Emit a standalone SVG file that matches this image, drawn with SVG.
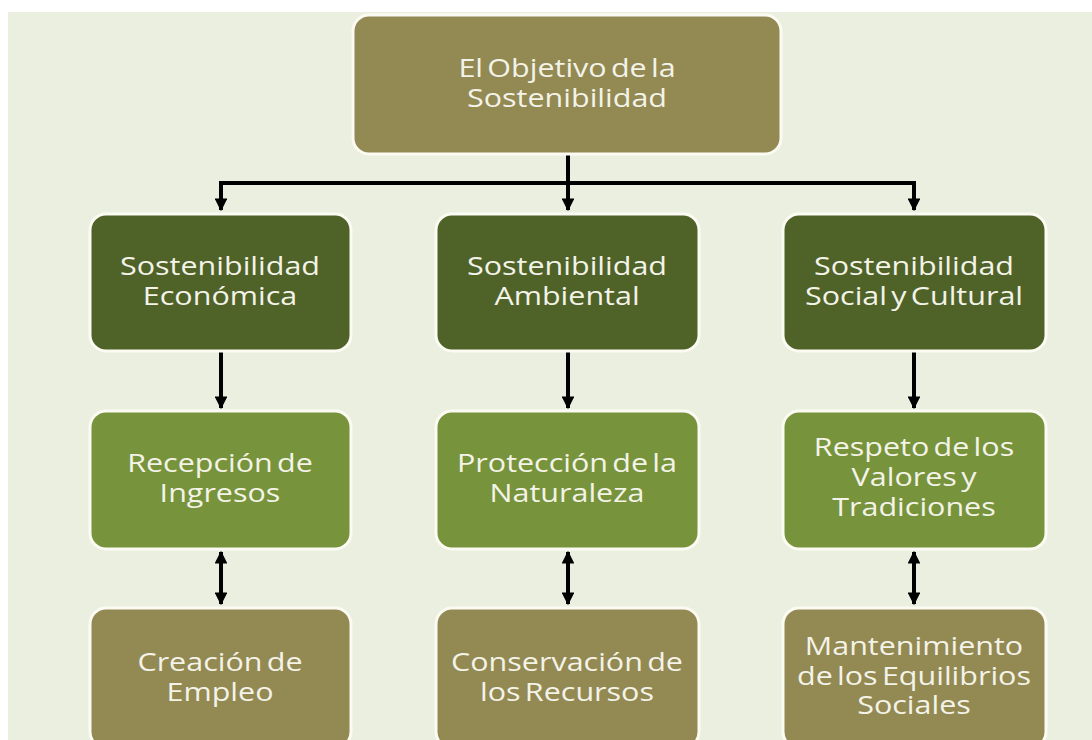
<svg xmlns="http://www.w3.org/2000/svg" width="1092" height="740" viewBox="0 0 1092 740">
<defs>
<marker id="ah" viewBox="0 0 10 10" refX="9" refY="5" markerWidth="3.2" markerHeight="3.2" orient="auto-start-reverse" markerUnits="strokeWidth">
<path d="M0,0 L10,5 L0,10 Z" fill="#000"/>
</marker>
</defs>
<style>
.box{stroke:#fbfbf3;stroke-width:3}
.olive{fill:#938953}
.dark{fill:#4f6228}
.green{fill:#77933c}
.t{font-family:"Open Sans","Liberation Sans",sans-serif;font-size:25px;fill:#f4f3e8;text-anchor:middle;word-spacing:-3px}
.c{stroke:#000;stroke-width:4;fill:none}
</style>
<rect x="0" y="0" width="1092" height="740" fill="#fff"/>
<rect x="8" y="12" width="1084" height="728" fill="#ebefdf"/>
<g id="connectors">
<path class="c" d="M568,153 V210" marker-end="url(#ah)"/>
<path class="c" d="M221,210 V183 H914 V210" marker-end="url(#ah)"/>
<path class="c" d="M221,183 V210" marker-end="url(#ah)"/>
<path class="c" d="M221,352 V408" marker-end="url(#ah)"/>
<path class="c" d="M568,352 V408" marker-end="url(#ah)"/>
<path class="c" d="M914,352 V408" marker-end="url(#ah)"/>
<path class="c" d="M221,552 V604" marker-start="url(#ah)" marker-end="url(#ah)"/>
<path class="c" d="M568,552 V604" marker-start="url(#ah)" marker-end="url(#ah)"/>
<path class="c" d="M914,552 V604" marker-start="url(#ah)" marker-end="url(#ah)"/>
</g>
<g id="n0"><rect class="box olive" x="353" y="15" width="428" height="139" rx="16"/>
<text class="t" transform="translate(567,77) scale(1.22,1)">El Objetivo de la</text><text class="t" transform="translate(567,107) scale(1.22,1)">Sostenibilidad</text></g>
<g id="n1"><rect class="box dark" x="90" y="214" width="261" height="137" rx="16"/>
<text class="t" transform="translate(220,275) scale(1.22,1)">Sostenibilidad</text><text class="t" transform="translate(220,305) scale(1.22,1)">Económica</text></g>
<g id="n2"><rect class="box dark" x="436" y="214" width="263" height="137" rx="16"/>
<text class="t" transform="translate(567,275) scale(1.22,1)">Sostenibilidad</text><text class="t" transform="translate(567,305) scale(1.22,1)">Ambiental</text></g>
<g id="n3"><rect class="box dark" x="783" y="214" width="263" height="137" rx="16"/>
<text class="t" transform="translate(914,275) scale(1.22,1)">Sostenibilidad</text><text class="t" transform="translate(914,305) scale(1.22,1)">Social y Cultural</text></g>
<g id="n4"><rect class="box green" x="90" y="411" width="261" height="138" rx="16"/>
<text class="t" transform="translate(220,472) scale(1.22,1)">Recepción de</text><text class="t" transform="translate(220,502) scale(1.22,1)">Ingresos</text></g>
<g id="n5"><rect class="box green" x="436" y="411" width="263" height="138" rx="16"/>
<text class="t" transform="translate(567,472) scale(1.22,1)">Protección de la</text><text class="t" transform="translate(567,502) scale(1.22,1)">Naturaleza</text></g>
<g id="n6"><rect class="box green" x="783" y="411" width="263" height="138" rx="16"/>
<text class="t" transform="translate(914,456) scale(1.22,1)">Respeto de los</text><text class="t" transform="translate(914,486) scale(1.22,1)">Valores y</text><text class="t" transform="translate(914,516) scale(1.22,1)">Tradiciones</text></g>
<g id="n7"><rect class="box olive" x="90" y="608" width="261" height="140" rx="16"/>
<text class="t" transform="translate(220,671) scale(1.22,1)">Creación de</text><text class="t" transform="translate(220,701) scale(1.22,1)">Empleo</text></g>
<g id="n8"><rect class="box olive" x="436" y="608" width="263" height="140" rx="16"/>
<text class="t" transform="translate(567,671) scale(1.22,1)">Conservación de</text><text class="t" transform="translate(567,701) scale(1.22,1)">los Recursos</text></g>
<g id="n9"><rect class="box olive" x="783" y="608" width="263" height="140" rx="16"/>
<text class="t" transform="translate(914,655) scale(1.22,1)">Mantenimiento</text><text class="t" transform="translate(914,685) scale(1.22,1)">de los Equilibrios</text><text class="t" transform="translate(914,714) scale(1.22,1)">Sociales</text></g>
</svg>
